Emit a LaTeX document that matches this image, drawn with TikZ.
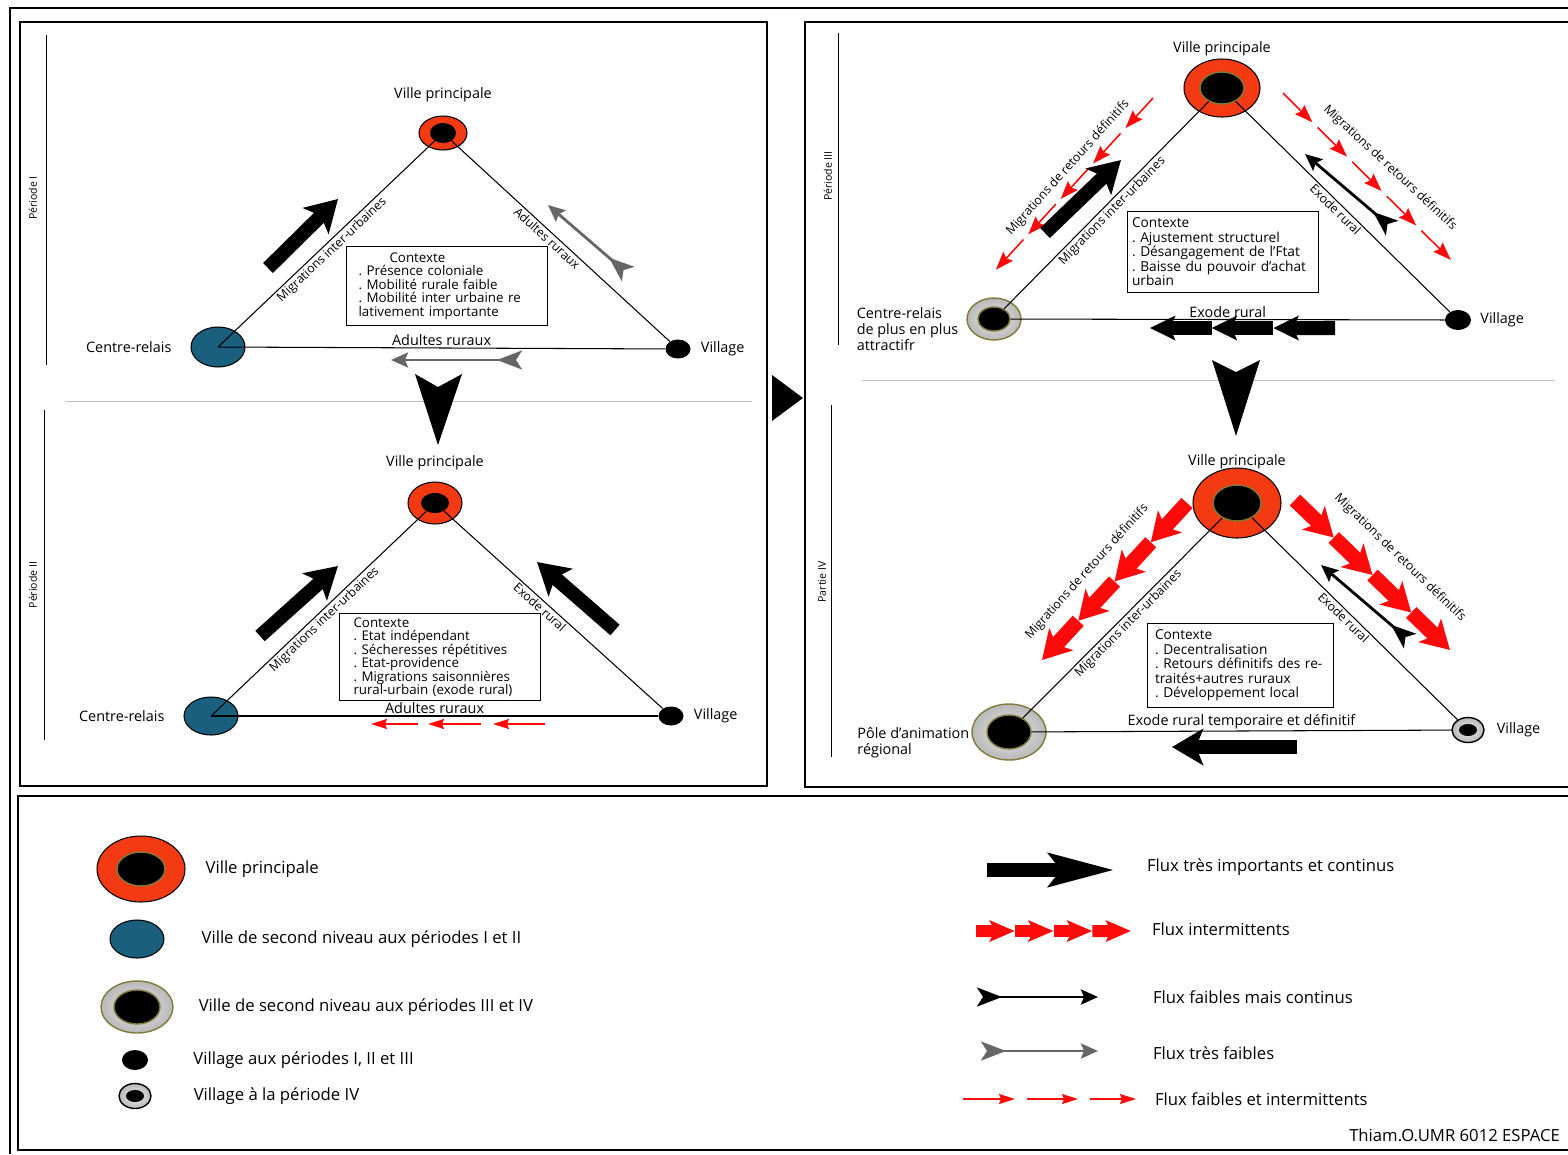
\documentclass[tikz,border=0pt]{standalone}
\usepackage{fontspec}
\setmainfont{Open Sans}
\usetikzlibrary{calc}
\usetikzlibrary{positioning}
\usetikzlibrary{shapes.geometric}
\usetikzlibrary{arrows.meta}
\frenchspacing

\definecolor{villered}{RGB}{243,58,18}
\definecolor{relaisblue}{RGB}{26,96,126}
\definecolor{ringgray}{RGB}{185,185,185}
\definecolor{ringolive}{RGB}{128,122,60}
\definecolor{fluxgray}{RGB}{102,102,102}
\definecolor{fluxred}{RGB}{255,10,10}

\tikzset{x=0.02cm, y=-0.02cm, % one unit = one pixel of the scanned figure
  every node/.style={inner sep=1pt},
  lbl/.style={font=\fontsize{8.2}{9}\selectfont},
  slopelbl/.style={font=\fontsize{7}{8}\selectfont, sloped},
  rotlbl/.style={font=\fontsize{7}{8}\selectfont},
  periode/.style={font=\fontsize{6}{7}\selectfont, rotate=90},
  leglbl/.style={font=\fontsize{9.5}{11}\selectfont},
  ctx/.style={draw, semithick, anchor=north west, align=left, inner ysep=3.5pt},
  ville/.style={ellipse, draw, semithick, fill=villered},
  core/.style={ellipse, fill=black},
  olivecore/.style={core, draw=ringolive, thick},
  relais/.style={ellipse, draw, semithick, fill=relaisblue},
  pole/.style={ellipse, draw=ringolive, thick, inner color=ringgray!35, outer color=ringgray},
  village/.style={ellipse, fill=black, minimum width=0.5cm, minimum height=0.38cm},
  villagering/.style={ellipse, draw, thick, inner color=ringgray!30, outer color=ringgray,
    minimum width=0.64cm, minimum height=0.5cm},
  cote/.style={semithick},
  cadre/.style={line width=1.2pt},
  fortflux/.style={line width=0.28cm, -{Stealth[length=0.62cm, width=0.72cm, inset=0.14cm]}},
  exodeflux/.style={line width=0.28cm, -{Stealth[length=0.5cm, width=0.48cm, inset=0.1cm]}},
  interflux/.style={fluxred, line width=0.3cm, -{Stealth[length=0.56cm, width=0.64cm, inset=0.14cm]}},
  faibleflux/.style={line width=1.6pt,
    {Stealth[reversed, length=0.5cm, width=0.38cm, inset=0.12cm]}-{Stealth[length=0.34cm, width=0.3cm, inset=0.06cm]}},
  tresfaibleflux/.style={faibleflux, fluxgray},
  intermflux/.style={fluxred, line width=0.9pt, -{Stealth[length=0.32cm, width=0.2cm, inset=0.04cm]}},
}

\begin{document}
\begin{tikzpicture}
  \useasboundingbox (0,0) rectangle (1568,1154);

  % frames
  \draw[cadre] (10,1154) -- (10,8) -- (1580,8);
  \draw[cadre] (20,22) rectangle (767,786);
  \draw[cadre] (805,22) rectangle (1580,787);
  \draw[cadre] (18,796) rectangle (1580,1150);
  \fill (772,375) -- (803,398) -- (772,421) -- cycle;

  % ---------- Periode I
  \draw (46,35) -- (46,365);
  \node[periode] (per1) at (33,198) {Période I};
  \draw[gray!50] (65,401) -- (752,401);

  \node[ville, minimum width=0.96cm, minimum height=0.68cm] (v1) at (443,133) {};
  \node[core, minimum width=0.52cm, minimum height=0.4cm] (v1c) at (v1) {};
  \node[relais, minimum width=1.08cm, minimum height=0.8cm] (c1) at (218,347) {};
  \node[village] (w1) at (678,349) {};
  \node[lbl, above=0.22cm of v1] (v1l) {Ville principale};
  \node[lbl, left=0.34cm of c1] (c1l) {Centre-relais};
  \node[lbl, right=0.16cm of w1] (w1l) {Village};

  \draw[cote] (c1.center) -- node[slopelbl, below] (mi1) {Migrations inter-urbaines} (v1c);
  \draw[cote] (v1c) -- node[slopelbl, below, pos=0.46] (ar1) {Adultes ruraux} (w1);
  \draw[cote] (c1.center) -- node[lbl, above] (ab1) {Adultes ruraux} (w1);

  \node[ctx, text width=3.54cm, inner xsep=0.24cm, font=\fontsize{7.6}{7.7}\selectfont] (ctx1) at (346,246)
    {\hspace*{0.62cm}Contexte\\. Présence coloniale\\. Mobilité rurale faible\\. Mobilité inter urbaine re\\lativement importante};

  \draw[fortflux] (268,268) -- (338,199);
  \draw[tresfaibleflux] (628,274) -- (548,205);
  \draw[tresfaibleflux] (522,360) -- (391,360);

  \fill (415,374) -- (438,387) -- (462,374) -- (438,445) -- cycle;

  % ---------- Periode II
  \draw (44,410) -- (44,740);
  \node[periode] (per2) at (33,585) {Période II};

  \node[ville, minimum width=1.08cm, minimum height=0.84cm] (v2) at (435,503) {};
  \node[core, minimum width=0.56cm, minimum height=0.4cm] (v2c) at (v2) {};
  \node[relais, minimum width=1.08cm, minimum height=0.76cm] (c2) at (211,716) {};
  \node[village] (w2) at (671,716) {};
  \node[lbl, above=0.18cm of v2] (v2l) {Ville principale};
  \node[lbl, left=0.34cm of c2] (c2l) {Centre-relais};
  \node[lbl, right=0.16cm of w2] (w2l) {Village};

  \draw[cote] (c2.center) -- node[slopelbl, below] (mi2) {Migrations inter-urbaines} (v2c);
  \draw[cote] (v2c) -- node[slopelbl, below, pos=0.46] (ex2) {Exode rural} (w2);
  \draw[cote] (c2.center) -- node[lbl, above] (ab2) {Adultes ruraux} (w2);

  \node[ctx, text width=3.46cm, inner xsep=0.28cm, inner ysep=2.2pt, font=\fontsize{7.6}{7.7}\selectfont] (ctx2) at (339,613)
    {Contexte\\. Etat indépendant\\. Sécheresses répétitives\\. Etat-providence\\. Migrations saisonnières\\rural-urbain (exode rural)};

  \draw[fortflux] (260,636) -- (338,566);
  \draw[fortflux] (615,630) -- (537,562);
  \draw[intermflux] (418,724) -- (371,724);
  \draw[intermflux] (481,724) -- (428,724);
  \draw[intermflux] (545,724) -- (493,724);

  % ---------- Periode III
  \draw (838,33) -- (838,345);
  \node[periode] (per3) at (828,176) {Période III};
  \draw[gray!50] (862,380) -- (1555,380);

  \node[ville, minimum width=1.52cm, minimum height=1.16cm] (v3) at (1222,88) {};
  \node[olivecore, minimum width=0.88cm, minimum height=0.64cm] (v3c) at (v3) {};
  \node[pole, minimum width=1.08cm, minimum height=0.84cm] (c3) at (994,319) {};
  \node[olivecore, minimum width=0.64cm, minimum height=0.48cm] (c3c) at (c3) {};
  \node[village, minimum width=0.52cm, minimum height=0.4cm] (w3) at (1458,320) {};
  \node[lbl, above=0.01cm of v3] (v3l) {Ville principale};
  \node[lbl, left=0.12cm of c3, align=left, yshift=-0.2cm] (c3l) {Centre-relais\\de plus en plus\\attractifr};
  \node[lbl, right=0.14cm of w3] (w3l) {Village};

  \draw[cote] (c3c) -- node[slopelbl, below] (mi3) {Migrations inter-urbaines} (v3c);
  \draw[cote] (v3c) -- node[slopelbl, below, pos=0.49] (ex3) {Exode rural} (w3);
  \draw[cote] (c3c) -- node[lbl, above] (ab3) {Exode rural} (w3);

  \node[ctx, text width=3.64cm, inner xsep=0.09cm, font=\fontsize{7.8}{8.3}\selectfont] (ctx3) at (1127,211)
    {Contexte\\. Ajustement structurel\\. Désangagement de l'Ftat\\. Baisse du pouvoir d'achat\\urbain};

  \coordinate (r3a) at (1153,98);
  \coordinate (r3b) at (991,275);
  \coordinate (r3c) at (1283,93);
  \coordinate (r3d) at (1456,265);
  \foreach \s [evaluate=\s as \e using \s+0.17] in {0,0.2,0.4,0.6,0.8} {
    \draw[intermflux, -{Stealth[length=0.36cm, width=0.26cm, inset=0.05cm]}] ($(r3a)!\s!(r3b)$) -- ($(r3a)!\e!(r3b)$);
    \draw[intermflux, -{Stealth[length=0.36cm, width=0.26cm, inset=0.05cm]}] ($(r3c)!\s!(r3d)$) -- ($(r3c)!\e!(r3d)$);
  }
  \node[rotlbl, rotate=48] (mr3l) at (1068,168) {Migrations de retours définitifs};
  \node[rotlbl, rotate=-43] (mr3r) at (1390,168) {Migrations de retours définitifs};

  \draw[fortflux] (1045,233) -- (1121,160);
  \draw[faibleflux] (1392,228) -- (1305,154);

  \coordinate (e3a) at (1335,328);
  \coordinate (e3b) at (1150,328);
  \foreach \s [evaluate=\s as \e using \s+1/3] in {0,1/3,2/3}
    \draw[exodeflux] ($(e3a)!\s!(e3b)$) -- ($(e3a)!\e!(e3b)$);

  \fill (1212,360) -- (1236,372) -- (1260,360) -- (1236,436) -- cycle;

  % ---------- Partie IV
  \draw (831,405) -- (831,757);
  \node[periode] (per4) at (822,582) {Partie IV};

  \node[ville, minimum width=1.76cm, minimum height=1.4cm] (v4) at (1237,503) {};
  \node[olivecore, minimum width=0.96cm, minimum height=0.72cm] (v4c) at (v4) {};
  \node[pole, minimum width=1.48cm, minimum height=1.12cm] (p4) at (1009,732) {};
  \node[olivecore, minimum width=0.88cm, minimum height=0.68cm] (p4c) at (p4) {};
  \node[villagering] (w4) at (1468,730) {};
  \node[core, minimum width=0.36cm, minimum height=0.24cm] (w4c) at (w4) {};
  \node[lbl, above=-0.08cm of v4] (v4l) {Ville principale};
  \node[lbl, left=0pt of p4, align=left, yshift=-0.22cm] (p4l) {Pôle d'animation\\régional};
  \node[lbl, right=0.2cm of w4] (w4l) {Village};

  \draw[cote] (p4c) -- node[slopelbl, below] (mi4) {Migrations inter-urbaines} (v4c);
  \draw[cote] (v4c) -- node[slopelbl, below, pos=0.47] (ex4) {Exode rural} (w4);
  \draw[cote] (p4c) -- node[lbl, above] (ab4) {Exode rural temporaire et définitif} (w4);

  \node[ctx, text width=3.42cm, inner xsep=0.15cm, font=\fontsize{7.8}{8.3}\selectfont] (ctx4) at (1147,623)
    {Contexte\\. Decentralisation\\. Retours définitifs des re-\\traités+autres ruraux\\. Développement local};

  \coordinate (r4a) at (1187,503);
  \coordinate (r4b) at (1042,660);
  \coordinate (r4c) at (1295,500);
  \coordinate (r4d) at (1450,650);
  \foreach \s [evaluate=\s as \e using \s+0.25] in {0,0.25,0.5,0.75} {
    \draw[interflux] ($(r4a)!\s!(r4b)$) -- ($(r4a)!\e!(r4b)$);
    \draw[interflux] ($(r4c)!\s!(r4d)$) -- ($(r4c)!\e!(r4d)$);
  }
  \node[rotlbl, rotate=48] (mr4l) at (1087,572) {Migrations de retours définitifs};
  \node[rotlbl, rotate=-44] (mr4r) at (1400,558) {Migrations de retours définitifs};

  \draw[faibleflux] (1410,641) -- (1321,565);
  \draw[fortflux] (1297,747) -- (1172,747);

  % ---------- legende
  \node[ville, minimum width=1.76cm, minimum height=1.32cm] (lv) at (141,869) {};
  \node[olivecore, minimum width=0.96cm, minimum height=0.68cm] (lvc) at (lv) {};
  \node[relais, minimum width=1.08cm, minimum height=0.76cm] (lr) at (137,939) {};
  \node[pole, minimum width=1.44cm, minimum height=1.04cm] (lp) at (137,1007) {};
  \node[olivecore, minimum width=0.92cm, minimum height=0.68cm] (lpc) at (lp) {};
  \node[village, minimum width=0.52cm, minimum height=0.4cm] (lw) at (135,1060) {};
  \node[villagering] (lwr) at (135,1096) {};
  \node[core, minimum width=0.36cm, minimum height=0.24cm] (lwrc) at (lwr) {};

  \node[leglbl, right=0.36cm of lv] (lvl) {Ville principale};
  \node[leglbl, right=0.7cm of lr] (lrl) {Ville de second niveau aux périodes I et II};
  \node[leglbl, right=0.46cm of lp] (lpl) {Ville de second niveau aux périodes III et IV};
  \node[leglbl, right=0.86cm of lw] (lwl) {Village aux périodes I, II et III};
  \node[leglbl, right=0.8cm of lwr] (lwrl) {Village à la période IV};

  \draw[fortflux, -{Stealth[length=1.3cm, width=0.64cm, inset=0.22cm]}] (987,870) -- (1115,870);
  \node[leglbl, anchor=west] (lf1) at (1145,867) {Flux très importants et continus};
  \coordinate (la) at (976,931);
  \coordinate (lb) at (1131,931);
  \foreach \s [evaluate=\s as \e using \s+0.25] in {0,0.25,0.5,0.75}
    \draw[interflux, line width=0.24cm, -{Stealth[length=0.5cm, width=0.42cm, inset=0.1cm]}] ($(la)!\s!(lb)$) -- ($(la)!\e!(lb)$);
  \node[leglbl, anchor=west] (lf2) at (1150,929) {Flux intermittents};
  \draw[faibleflux] (977,997) -- (1098,997);
  \node[leglbl, anchor=west] (lf3) at (1151,997) {Flux faibles mais continus};
  \draw[tresfaibleflux] (981,1051) -- (1098,1051);
  \node[leglbl, anchor=west] (lf4) at (1151,1053) {Flux très faibles};
  \draw[intermflux] (963,1099) -- (1015,1099);
  \draw[intermflux] (1027,1099) -- (1078,1099);
  \draw[intermflux] (1090,1099) -- (1136,1099);
  \node[leglbl, anchor=west] (lf5) at (1153,1099) {Flux faibles et intermittents};

  \node[leglbl, anchor=east] (sig) at (1562,1135) {Thiam.O.UMR 6012 ESPACE};
\end{tikzpicture}
\end{document}
